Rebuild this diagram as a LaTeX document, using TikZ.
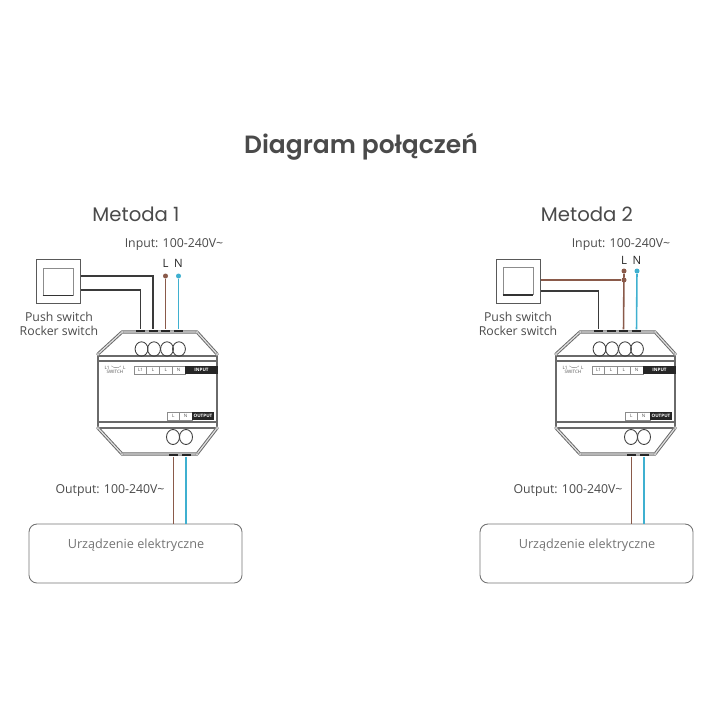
\documentclass[tikz,border=0pt]{standalone}
\usepackage{fontspec}
\setmainfont{Open Sans}
\newfontfamily\headfont{Poppins}
\newfontfamily\titlefont{Poppins SemiBold}
\definecolor{wirebrown}{HTML}{8A5A4A}
\definecolor{wireblue}{HTML}{3FB0D0}
\definecolor{wireblack}{HTML}{3A3A3A}
\definecolor{labelgray}{HTML}{4A4A4A}
\definecolor{devgray}{HTML}{6A6A6A}
\newlength{\unit}
\setlength{\unit}{0.02cm}
\tikzset{
  label/.style={text=labelgray, font=\fontsize{7}{8.4}\selectfont, inner sep=0pt, align=center},
  heading/.style={text=labelgray, font=\headfont\fontsize{11.2}{13}\selectfont, inner sep=0pt},
  pin/.style={fill=black!85, minimum width=9\unit, minimum height=2.4\unit, inner sep=0pt},
  dot/.style={circle, minimum size=5\unit, inner sep=0pt},
  knob/.style={circle, draw=black!40, fill=white, line width=0.4pt, minimum size=3\unit, inner sep=0pt},
  cell/.style={draw=black!45, line width=0.3pt, minimum height=8\unit, inner sep=0pt, text=black!70, font=\fontsize{2.6}{3}\selectfont},
  darkcell/.style={fill=black!85, minimum height=8\unit, inner sep=0pt, text=white, font=\bfseries\fontsize{2.6}{3}\selectfont},
  wire/.style={line width=0.9pt},
  thinwire/.style={line width=0.7pt},
  shell/.style={draw=devgray, double=black!12, double distance=0.7pt, line width=0.55pt, line join=round},
  loadbox/.style={draw=black!55, line width=0.5pt, rounded corners=8\unit, inner sep=0pt}
}
% one module, #1 = name prefix, #2 = x shift
\newcommand{\module}[2]{
  \begin{scope}[shift={(#2,0)}]
    \draw[shell] (98,354) -- (122,332) -- (197,332) -- (217,354);
    \draw[shell] (98,428) -- (122,454) -- (197,454) -- (217,428);
    \draw[devgray, line width=0.7pt] (98,354) -- (98,428);
    \draw[devgray, line width=0.7pt] (217,354) -- (217,428);
    \draw[devgray, line width=0.6pt] (98,356) -- (217,356);
    \draw[devgray, line width=0.6pt] (98,361) -- (217,361);
    \draw[devgray, line width=0.6pt] (98,422) -- (217,422);
    \draw[devgray, line width=0.6pt] (98,428) -- (217,428);
    \foreach \x/\y in {98/354,122/332,197/332,217/354,98/428,122/454,197/454,217/428}
      \node[knob] at (\x,\y) {};
    \foreach \x in {141.5,154,167,179}
      \draw[black!75, line width=0.5pt] (\x,349) ellipse (6.4 and 7.2);
    \foreach \x in {173,186}
      \draw[black!75, line width=0.5pt] (\x,437) ellipse (6.5 and 7.5);
    \node[pin] (#1p1) at (140.5,331) {};
    \node[pin] (#1p2) at (153,331) {};
    \node[pin] (#1p3) at (165.5,331) {};
    \node[pin] (#1p4) at (178.5,331) {};
    \node[pin] (#1q1) at (173.5,455) {};
    \node[pin] (#1q2) at (186,455) {};
    \node[text=black!70, font=\fontsize{2.6}{3}\selectfont, inner sep=0pt, align=center] (#1sw) at (115,370) {L1\,$\smile$\,L\\[-1pt]SWITCH};
    \node[cell, minimum width=12.5\unit] (#1c1) at (140.5,370) {L1};
    \node[cell, minimum width=12.5\unit] (#1c2) at (153,370) {L};
    \node[cell, minimum width=12.5\unit] (#1c3) at (165.7,370) {L};
    \node[cell, minimum width=12.5\unit] (#1c4) at (178.6,370) {N};
    \node[darkcell, minimum width=33\unit] (#1c5) at (201.5,370) {INPUT};
    \node[cell, minimum width=12\unit] (#1o1) at (173.3,416) {L};
    \node[cell, minimum width=12.5\unit] (#1o2) at (185.6,416) {N};
    \node[darkcell, minimum width=22\unit] (#1o3) at (203,416) {OUTPUT};
  \end{scope}
}
\begin{document}
\begin{tikzpicture}[x=\unit, y=-\unit]
  \useasboundingbox (0,0) rectangle (720,720);
  \node[text=labelgray, font=\titlefont\fontsize{14.2}{18}\selectfont, inner sep=0pt] (title) at (361,147) {Diagram połączeń};

  % Metoda 1
  \node[heading] (head1) at (136,214) {Metoda 1};
  \node[label] (in1) at (174,245) {Input: 100-240V\textasciitilde};
  \node[label] (sw1label) at (59,324) {Push switch\\Rocker switch};
  \node[draw=black!65, line width=0.5pt, minimum size=44\unit, inner sep=0pt] (sw1) at (58.5,281) {};
  \node[draw=black!45, line width=0.5pt, minimum width=30\unit, minimum height=27\unit, inner sep=0pt] (key1) at (58,281.5) {};
  \draw[black!80, line width=0.8pt] (key1.south west) -- (key1.south east);
  \module{a}{0}
  \node[label, text=black!85, font=\fontsize{6.5}{8}\selectfont] (L1) at (165.5,263) {L};
  \node[label, text=black!85, font=\fontsize{6.5}{8}\selectfont] (N1) at (178.5,263) {N};
  \node[dot, fill=wirebrown] (dL1) at (165.5,276) {};
  \node[dot, fill=wireblue] (dN1) at (178.5,276) {};
  \coordinate (s1a) at (81,276);
  \coordinate (s1b) at (81,290);
  \draw[wireblack, thinwire] (s1a) -| (ap2);
  \draw[wireblack, thinwire] (s1b) -| (ap1);
  \draw[wirebrown, wire] (dL1) -- (ap3);
  \draw[wireblue, wire] (dN1) -- (ap4);
  \node[label] (out1) at (110,491) {Output: 100-240V\textasciitilde};
  \node[loadbox, minimum width=213\unit, minimum height=59\unit] (load1) at (135.5,553.5) {};
  \node[label, text=black!55, font=\fontsize{7.2}{8.4}\selectfont] (load1text) at (136,545) {Urządzenie elektryczne};
  \draw[wirebrown, thinwire] (aq1) -- (aq1 |- load1.north);
  \draw[wireblue, thinwire] (aq2) -- (aq2 |- load1.north);

  % Metoda 2
  \node[heading] (head2) at (587,214) {Metoda 2};
  \node[label] (in2) at (621,245) {Input: 100-240V\textasciitilde};
  \node[label] (sw2label) at (518,324) {Push switch\\Rocker switch};
  \node[draw=black!65, line width=0.5pt, minimum size=44\unit, inner sep=0pt] (sw2) at (518.5,281) {};
  \node[draw=black!45, line width=0.5pt, minimum width=30\unit, minimum height=27\unit, inner sep=0pt] (key2) at (518,281) {};
  \draw[black!80, line width=0.8pt] (key2.south west) -- (key2.south east);
  \module{b}{458}
  \node[label, text=black!85, font=\fontsize{6.5}{8}\selectfont] (L2) at (624,260) {L};
  \node[label, text=black!85, font=\fontsize{6.5}{8}\selectfont] (N2) at (637,260) {N};
  \node[dot, fill=wirebrown] (dL2) at (624,271) {};
  \node[dot, fill=wireblue] (dN2) at (637,271) {};
  \node[dot, fill=wirebrown] (dJ2) at (624,280) {};
  \coordinate (s2a) at (541,280);
  \coordinate (s2b) at (541,291);
  \draw[wirebrown, wire] (s2a) -- (dJ2);
  \draw[wireblack, thinwire] (s2b) -| (bp1);
  \draw[wirebrown, wire] (dL2) -- (bp3);
  \draw[wireblue, wire] (dN2) -- (bp4);
  \node[label] (out2) at (568,491) {Output: 100-240V\textasciitilde};
  \node[loadbox, minimum width=213\unit, minimum height=59\unit] (load2) at (586.5,553.5) {};
  \node[label, text=black!55, font=\fontsize{7.2}{8.4}\selectfont] (load2text) at (587,545) {Urządzenie elektryczne};
  \draw[wirebrown, thinwire] (bq1) -- (bq1 |- load2.north);
  \draw[wireblue, thinwire] (bq2) -- (bq2 |- load2.north);
\end{tikzpicture}
\end{document}
